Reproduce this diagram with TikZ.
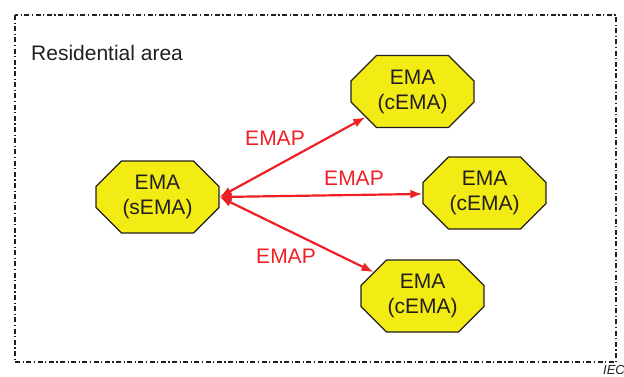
\documentclass[tikz,border=0pt]{standalone}
\usepackage{fontspec}
\setmainfont{Liberation Sans}
\usetikzlibrary{shapes.misc,arrows.meta,positioning}

\definecolor{emayellow}{RGB}{242,235,20}
\definecolor{emapred}{RGB}{237,32,36}
\definecolor{inkgray}{RGB}{35,31,32}

\tikzset{
	ema/.style={chamfered rectangle, chamfered rectangle angle=45,
		chamfered rectangle xsep=24pt,
		draw=inkgray, line width=1.2pt, fill=emayellow, text=inkgray,
		inner sep=0pt, minimum width=123pt, minimum height=72pt,
		align=center, font=\fontsize{21}{25}\selectfont},
	emap/.style={emapred, line width=2.2pt, {Latex[length=12pt,width=9pt]}-{Latex[length=12pt,width=9pt]}},
	lbl/.style={text=emapred, font=\fontsize{21}{25}\selectfont, inner sep=0pt}
}

\begin{document}
\begin{tikzpicture}[x=1pt,y=-1pt]
		
		\useasboundingbox (0,0) rectangle (624,376);
		
		% residential area border
		\draw[inkgray, line width=1.2pt, dash pattern=on 5pt off 2.5pt on 1.2pt off 2.5pt]
			(15,15) rectangle (616,362);
		\node[anchor=base west, text=inkgray, font=\fontsize{21}{25}\selectfont, inner sep=0pt]
			(area) at (31,60) {Residential area};
		
		% server and client EMAs
		\node[ema] (s) at (157.5,197) {EMA\\(sEMA)};
		\node[ema] (c1) at (412.5,91.5) {EMA\\(cEMA)};
		\node[ema] (c2) at (484.5,193) {EMA\\(cEMA)};
		\node[ema] (c3) at (422.5,296) {EMA\\(cEMA)};
		
		% EMAP links
		\draw[emap] (s.east) -- (c1);
		\draw[emap] (s.east) -- (c2);
		\draw[emap] (s.east) -- (c3);
		
		\node[lbl] (l1) at (275,138) {EMAP};
		\node[lbl] (l2) at (354,178) {EMAP};
		\node[lbl] (l3) at (286,256) {EMAP};
		
		\node[anchor=north west, inner sep=0pt, text=inkgray, font=\fontsize{13}{15}\itshape]
			(iec) at (603,365) {IEC};
		
	\end{tikzpicture}
\end{document}
